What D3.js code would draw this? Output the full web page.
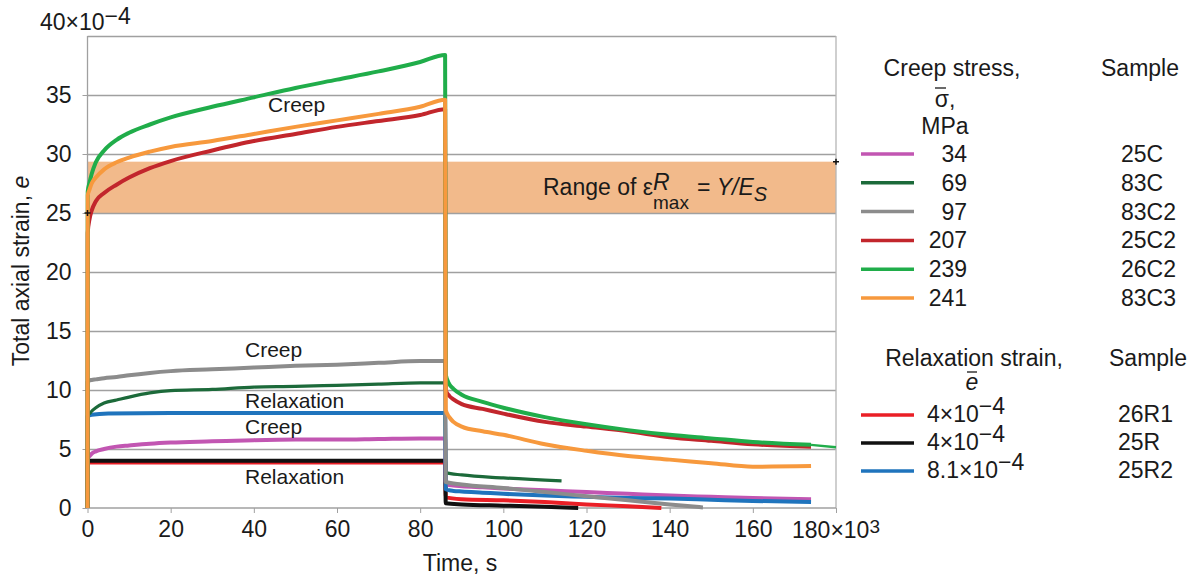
<!DOCTYPE html>
<html><head><meta charset="utf-8">
<script src="https://cdn.jsdelivr.net/npm/d3@7"></script>
<style>
body{margin:0;background:#fff}
svg{display:block}
text{font-family:"Liberation Sans",Arial,Helvetica,sans-serif;fill:#1a1a1a}
</style>
</head><body>
<svg id="chart" width="1197" height="579"></svg>
<script>
// ---------------- DATA ----------------
const yTicks = [0, 5, 10, 15, 20, 25, 30, 35];
const gridValues = [5, 10, 15, 20, 25, 30, 35, 40];
const xTicks = [0, 20, 40, 60, 80, 100, 120, 140, 160, 180];
const xTickLabels = ["0", "20", "40", "60", "80", "100", "120", "140", "160", ""];
const yTopLabel = "40×10";
const yTopExp = "−4";
const xEndLabel = "180×10";
const xEndExp = "3";
const band = [25, 29.35];

// creep phase time (10^3 s)
const creepT = [0, 0.05, 0.5, 1, 2, 4, 7, 10, 15, 20, 30, 40, 50, 60, 70, 80, 86];
const c34   = [0, 4.2, 4.4, 4.6, 4.8, 5.0, 5.2, 5.3, 5.45, 5.55, 5.65, 5.75, 5.8, 5.8, 5.85, 5.9, 5.9];
const c69   = [0, 7.9, 8.0, 8.2, 8.5, 8.9, 9.15, 9.4, 9.75, 9.95, 10.05, 10.25, 10.3, 10.4, 10.5, 10.6, 10.6];
const c97   = [0, 10.7, 10.8, 10.85, 10.9, 11.0, 11.1, 11.25, 11.45, 11.6, 11.75, 11.9, 12.05, 12.15, 12.3, 12.45, 12.45];
const c207  = [0, 23.3, 24.5, 25.2, 26.0, 26.7, 27.4, 28.0, 28.8, 29.4, 30.3, 31.1, 31.7, 32.3, 32.8, 33.3, 33.8];
const c239  = [0, 26.8, 27.6, 28.3, 29.3, 30.3, 31.2, 31.8, 32.5, 33.1, 34.0, 34.8, 35.6, 36.3, 37.0, 37.8, 38.4];
const c241  = [0, 26.5, 27.0, 27.5, 28.0, 28.7, 29.3, 29.7, 30.2, 30.6, 31.1, 31.7, 32.3, 32.85, 33.4, 34.0, 34.6];

// recovery phase time (10^3 s)
const recT  = [86.15, 87, 88, 90, 95, 100, 110, 120, 130, 140, 150, 160, 174];
const r34   = [2.0, 1.95, 1.9, 1.85, 1.75, 1.65, 1.5, 1.35, 1.2, 1.05, 0.95, 0.85, 0.75];
const r207  = [10.0, 9.5, 9.2, 8.8, 8.4, 8.0, 7.3, 6.9, 6.5, 6.0, 5.7, 5.4, 5.2];
const r239  = [11.3, 10.5, 10.1, 9.6, 9.0, 8.5, 7.7, 7.1, 6.6, 6.2, 5.9, 5.6, 5.35];
const r241  = [8.3, 7.7, 7.3, 6.9, 6.5, 6.2, 5.4, 4.85, 4.4, 4.1, 3.8, 3.5, 3.55];
const r69T  = [86.15, 90, 100, 114];
const r69   = [3.0, 2.8, 2.55, 2.3];
const r97T  = [86.15, 90, 100, 110, 120, 130, 140, 148];
const r97   = [2.2, 2.0, 1.7, 1.35, 1.0, 0.65, 0.3, 0.05];
const tail239T = [174, 180];
const tail239  = [5.35, 5.15];

// relaxation tests
const relaxT   = [0, 0.05, 1, 5, 20, 40, 60, 80, 86];
const x26R1    = [0, 3.85, 3.85, 3.85, 3.85, 3.85, 3.85, 3.85, 3.85];
const x25R     = [0, 4.0, 4.0, 4.0, 4.0, 4.0, 4.0, 4.0, 4.0];
const x25R2    = [0, 7.8, 7.9, 8.0, 8.05, 8.05, 8.05, 8.05, 8.05];
const rr26R1T  = [86.15, 90, 100, 110, 120, 130, 138];
const rr26R1   = [0.9, 0.75, 0.65, 0.5, 0.3, 0.15, 0.0];
const rr25RT   = [86.15, 90, 100, 110, 118];
const rr25R    = [0.4, 0.3, 0.2, 0.1, 0.0];
const rr25R2   = [1.6, 1.5, 1.45, 1.4, 1.3, 1.2, 1.05, 0.95, 0.85, 0.8, 0.7, 0.6, 0.5];

// legend
const creepStress  = ["34", "69", "97", "207", "239", "241"];
const creepSamples = ["25C", "83C", "83C2", "25C2", "26C2", "83C3"];
const relaxStrainBase = ["4×10", "4×10", "8.1×10"];
const relaxStrainExp  = ["−4", "−4", "−4"];
const relaxSamples = ["26R1", "25R", "25R2"];

const colors = {
  "25C": "#c256b2", "83C": "#1c6a3a", "83C2": "#8c8c8c", "25C2": "#c2262c",
  "26C2": "#20ad4a", "83C3": "#f7993d", "26R1": "#ea1f26", "25R": "#111111", "25R2": "#1f74bd"
};

// ---------------- CHART ----------------
const svg = d3.select("#chart");
const x = d3.scaleLinear().domain([0, 180]).range([87.5, 836]);
const y = d3.scaleLinear().domain([0, 40]).range([508, 36]);
const FF = '"Liberation Sans",Arial,sans-serif';

// band
svg.append("rect")
  .attr("x", x(0)).attr("width", x(180) - x(0))
  .attr("y", y(band[1])).attr("height", y(band[0]) - y(band[1]))
  .attr("fill", "#f2ba8b");

// gridlines
const grid = svg.append("g").attr("transform", `translate(${x(0)},0)`)
  .call(d3.axisLeft(y).tickValues(gridValues).tickSize(-(x(180) - x(0))).tickFormat(""));
grid.select(".domain").remove();
grid.selectAll("line").attr("stroke", "#a0a0a0").attr("stroke-width", 1.3);

// right border
svg.append("line").attr("x1", x(180)).attr("x2", x(180)).attr("y1", y(40)).attr("y2", y(0))
  .attr("stroke", "#b5b5b5").attr("stroke-width", 1.3);

// y axis
const yAx = svg.append("g").attr("transform", `translate(${x(0)},0)`)
  .call(d3.axisLeft(y).tickValues(yTicks).tickSize(5).tickPadding(11));
yAx.select(".domain").attr("stroke", "#a0a0a0").attr("stroke-width", 1.3)
  .attr("d", `M0,${y(0)}V${y(40)}`);
yAx.selectAll("line").attr("stroke", "#a0a0a0");
yAx.selectAll("text").attr("font-size", 23).attr("fill", "#1a1a1a").style("font-family", FF);

// x axis
const xAx = svg.append("g").attr("transform", `translate(0,${y(0)})`)
  .call(d3.axisBottom(x).tickValues(xTicks).tickSize(5).tickPadding(8)
    .tickFormat((d, i) => xTickLabels[i]));
xAx.select(".domain").attr("stroke", "#a0a0a0").attr("stroke-width", 1.3)
  .attr("d", `M${x(0)},0H${x(180)}`);
xAx.selectAll("line").attr("stroke", "#a0a0a0");
xAx.selectAll("text").attr("font-size", 23).attr("fill", "#1a1a1a").style("font-family", FF);

// axis extra labels
const topLab = svg.append("text").attr("x", 40).attr("y", 30).attr("font-size", 23);
topLab.append("tspan").text(yTopLabel);
topLab.append("tspan").attr("dy", -6).text(yTopExp);

const endLab = svg.append("text").attr("x", x(180)).attr("y", 538)
  .attr("font-size", 23).attr("text-anchor", "middle");
endLab.append("tspan").text(xEndLabel);
endLab.append("tspan").attr("dy", -5).attr("font-size", 19).text(xEndExp);

// axis titles
svg.append("text").attr("x", 460).attr("y", 571).attr("text-anchor", "middle")
  .attr("font-size", 23).text("Time, s");
const yt = svg.append("text").attr("transform", "translate(29,271) rotate(-90)")
  .attr("text-anchor", "middle").attr("font-size", 23);
yt.append("tspan").text("Total axial strain, ");
yt.append("tspan").attr("font-style", "italic").text("e");

// lines
const lineGen = d3.line().x(d => x(d[0])).y(d => y(d[1])).curve(d3.curveMonotoneX);
const zipT = (ts, vs) => ts.map((t, i) => [t, vs[i]]);

const seriesList = [
  { key: "26R1", pts: zipT(relaxT, x26R1).concat(zipT(rr26R1T, rr26R1)), w: 4 },
  { key: "25R",  pts: zipT(relaxT, x25R).concat(zipT(rr25RT, rr25R)), w: 4 },
  { key: "25C",  pts: zipT(creepT, c34).concat(zipT(recT, r34)), w: 4 },
  { key: "25R2", pts: zipT(relaxT, x25R2).concat(zipT(recT, rr25R2)), w: 4 },
  { key: "83C",  pts: zipT(creepT, c69).concat(zipT(r69T, r69)), w: 3.2 },
  { key: "83C2", pts: zipT(creepT, c97).concat(zipT(r97T, r97)), w: 4 },
  { key: "25C2", pts: zipT(creepT, c207).concat(zipT(recT, r207)), w: 4 },
  { key: "26C2", pts: zipT(creepT, c239).concat(zipT(recT, r239)), w: 4 },
  { key: "26C2", pts: zipT(tail239T, tail239), w: 2.4 },
  { key: "83C3", pts: zipT(creepT, c241).concat(zipT(recT, r241)), w: 4 }
];
svg.append("g").selectAll("path").data(seriesList).join("path")
  .attr("d", d => lineGen(d.pts))
  .attr("fill", "none")
  .attr("stroke", d => colors[d.key])
  .attr("stroke-width", d => d.w)
  .attr("stroke-linejoin", "round");

// small + markers
[[0, 25], [180, band[1]]].forEach(p => {
  svg.append("path").attr("d", `M${x(p[0]) - 3},${y(p[1])}h6M${x(p[0])},${y(p[1]) - 3}v6`)
    .attr("stroke", "#111").attr("stroke-width", 1.5);
});

// annotations
const ann = [["Creep", 268, 112], ["Creep", 245, 357], ["Relaxation", 245, 408], ["Creep", 245, 434], ["Relaxation", 245, 484]];
svg.append("g").selectAll("text").data(ann).join("text")
  .attr("x", d => d[1]).attr("y", d => d[2]).attr("font-size", 21).text(d => d[0]);

// range text (single text element with tspans)
const rg = svg.append("text").attr("x", 543).attr("y", 195).attr("font-size", 23);
rg.append("tspan").text("Range of ε");
const rT = rg.append("tspan").attr("font-style", "italic").attr("dy", -5).text("R");
const rW = rT.node().getComputedTextLength();
rg.append("tspan").attr("font-size", 19).attr("dx", -rW).attr("dy", 19).text("max");
rg.append("tspan").attr("dy", -14).attr("dx", 8).text("= ");
rg.append("tspan").attr("font-style", "italic").text("Y/E");
rg.append("tspan").attr("font-style", "italic").attr("font-size", 20).attr("dy", 6).text("S");

// legend - creep
const lg = svg.append("g").attr("font-size", 23);
lg.append("text").attr("x", 952).attr("y", 76).attr("text-anchor", "middle").text("Creep stress,");
lg.append("text").attr("x", 945).attr("y", 107).attr("text-anchor", "middle").text("σ,");
lg.append("line").attr("x1", 935).attr("x2", 946).attr("y1", 88).attr("y2", 88)
  .attr("stroke", "#1a1a1a").attr("stroke-width", 1.3);
lg.append("text").attr("x", 945).attr("y", 134).attr("text-anchor", "middle").text("MPa");
lg.append("text").attr("x", 1140).attr("y", 76).attr("text-anchor", "middle").text("Sample");
creepStress.forEach((s, i) => {
  const yy = 162 + i * 28.8;
  lg.append("line").attr("x1", 861).attr("x2", 914).attr("y1", yy - 8).attr("y2", yy - 8)
    .attr("stroke", colors[creepSamples[i]]).attr("stroke-width", 3.5);
  lg.append("text").attr("x", 967).attr("y", yy).attr("text-anchor", "end").text(s);
  lg.append("text").attr("x", 1121).attr("y", yy).text(creepSamples[i]);
});

// legend - relaxation
lg.append("text").attr("x", 974).attr("y", 366).attr("text-anchor", "middle").text("Relaxation strain,");
lg.append("text").attr("x", 1148).attr("y", 366).attr("text-anchor", "middle").text("Sample");
lg.append("text").attr("x", 972).attr("y", 390).attr("text-anchor", "middle").attr("font-style", "italic").text("e");
lg.append("line").attr("x1", 967).attr("x2", 977).attr("y1", 372).attr("y2", 372)
  .attr("stroke", "#1a1a1a").attr("stroke-width", 1.3);
relaxSamples.forEach((s, i) => {
  const yy = 422 + i * 28;
  lg.append("line").attr("x1", 861).attr("x2", 914).attr("y1", yy - 7).attr("y2", yy - 7)
    .attr("stroke", colors[s]).attr("stroke-width", 3.5);
  const t = lg.append("text").attr("x", 927).attr("y", yy);
  t.append("tspan").text(relaxStrainBase[i]);
  t.append("tspan").attr("dy", -8).text(relaxStrainExp[i]);
  lg.append("text").attr("x", 1118).attr("y", yy).text(s);
});
</script>
</body></html>
